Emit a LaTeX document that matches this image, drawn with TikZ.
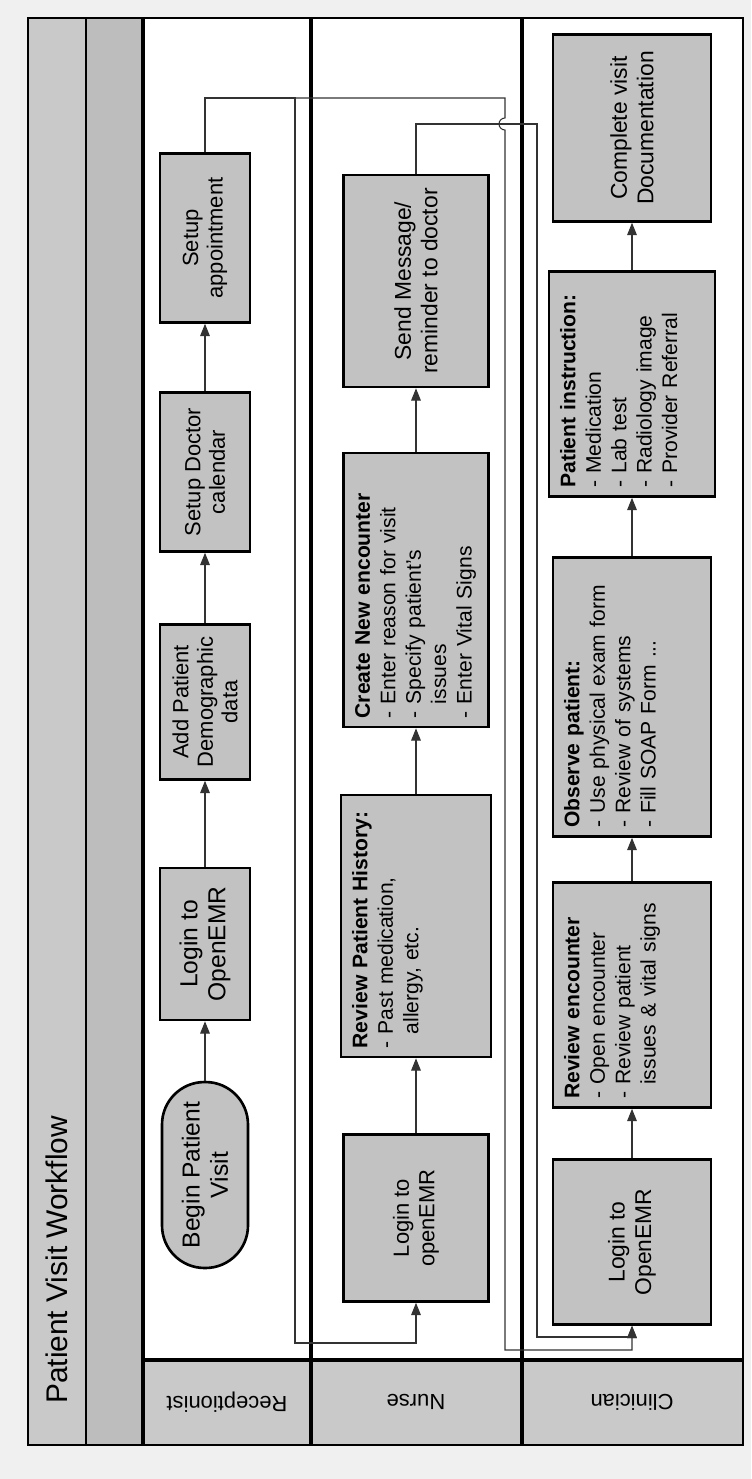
\documentclass[tikz,border=0pt]{standalone}
\usepackage{fontspec}
\setmainfont{Liberation Sans}
\usetikzlibrary{arrows.meta}
\definecolor{boxgray}{HTML}{C2C2C2}
\definecolor{stripgray}{HTML}{C9C9C9}
\definecolor{bandgray}{HTML}{BDBDBD}
\definecolor{paper}{HTML}{F0F0F0}

\begin{document}
\begin{tikzpicture}[x=0.02cm, y=-0.02cm,
    stepbox/.style={draw, line width=1.5pt, fill=boxgray, rotate=90, align=center, inner sep=5pt},
    listbox/.style 2 args={stepbox, align=left, text width=#1, text height=10pt, text depth=#2, font=\fontsize{12}{14.5}\selectfont},
    startbox/.style={stepbox, rounded corners=0.85cm},
    flow/.style={draw=black!80, line width=0.6pt, -{Triangle[length=7pt, width=5.5pt]}},
    laneline/.style={line width=2pt},
    lanename/.style={rotate=180, font=\fontsize{12.5}{14}\selectfont}]
      \useasboundingbox (0,0) rectangle (751,1479);
      \fill[paper] (0,0) rectangle (751,1479);
      %Pool and lanes
      \fill[white] (143,18) rectangle (743,1360);
      \fill[stripgray] (28,18) rectangle (86,1445);
      \fill[bandgray] (86,18) rectangle (143,1445);
      \fill[stripgray] (143,1360) rectangle (743,1445);
      \draw[line width=1.6pt] (28,18) rectangle (743,1445);
      \draw[line width=0.8pt] (86,18) -- (86,1445);
      \draw[laneline] (143,18) -- (143,1445);
      \draw[laneline] (311,18) -- (311,1445);
      \draw[laneline] (522,18) -- (522,1445);
      \draw[laneline] (143,1360) -- (743,1360);
      \node[rotate=90, anchor=west, font=\fontsize{17}{20}\selectfont] (title) at (57,1410) {Patient Visit Workflow};
      \node[lanename] (recname) at (227,1402) {Receptionist};
      \node[lanename] (nursename) at (416,1402) {Nurse};
      \node[lanename] (clinname) at (632,1402) {Clinician};

      %Receptionist
      \node[startbox, minimum width=3.72cm, minimum height=1.72cm, font=\fontsize{14}{16}\selectfont] (begin) at (205,1175) {Begin Patient\\Visit};
      \node[stepbox, minimum width=3.04cm, minimum height=1.8cm, font=\fontsize{14}{16}\selectfont] (rlogin) at (205,944) {Login to\\OpenEMR};
      \node[stepbox, minimum width=3.1cm, minimum height=1.8cm, font=\fontsize{12.5}{14}\selectfont] (demog) at (205,702) {Add Patient\\Demographic\\data};
      \node[stepbox, minimum width=3.18cm, minimum height=1.8cm, font=\fontsize{12.5}{14}\selectfont] (calendar) at (205,472) {Setup Doctor\\calendar};
      \node[stepbox, minimum width=3.38cm, minimum height=1.8cm, font=\fontsize{12.5}{14}\selectfont] (appt) at (205,238) {Setup\\appointment};
      \draw[flow] (begin.east) -- (rlogin.west);
      \draw[flow] (rlogin.east) -- (demog.west);
      \draw[flow] (demog.east) -- (calendar.west);
      \draw[flow] (calendar.east) -- (appt.west);

      %Nurse
      \node[stepbox, minimum width=3.34cm, minimum height=2.9cm, font=\fontsize{12.5}{14.5}\selectfont] (nlogin) at (416,1218) {Login to\\openEMR};
      \node[listbox={4.89cm}{2.30cm}] (history) at (416,926) {\textbf{Review Patient History:}\\- Past medication,\\\phantom{- }allergy, etc.};
      \node[listbox={5.13cm}{2.20cm}] (encounter) at (416,590) {\textbf{Create  New encounter}\\- Enter reason for visit\\- Specify  patient’s\\\phantom{- }issues\\- Enter Vital Signs};
      \node[stepbox, minimum width=4.24cm, minimum height=2.9cm, font=\fontsize{13}{15}\selectfont] (message) at (416,281) {Send Message/\\reminder to doctor};
      \draw[flow] (nlogin.east) -- (history.west);
      \draw[flow] (history.east) -- (encounter.west);
      \draw[flow] (encounter.east) -- (message.west);

      %Clinician
      \node[stepbox, minimum width=3.3cm, minimum height=3.16cm, font=\fontsize{13}{15}\selectfont] (clogin) at (632,1242) {Login to\\OpenEMR};
      \node[listbox={4.15cm}{2.46cm}] (review) at (632,995) {\textbf{Review encounter}\\- Open encounter\\- Review patient\\\phantom{- }issues \& vital signs};
      \node[listbox={5.23cm}{2.46cm}] (observe) at (632,697) {\textbf{Observe  patient:}\\- Use physical exam form\\- Review of systems\\- Fill SOAP Form ...};
      \node[listbox={4.15cm}{2.62cm}] (instruct) at (632,384) {\textbf{Patient instruction:}\\- Medication\\- Lab test\\- Radiology image\\- Provider Referral};
      \node[stepbox, minimum width=3.74cm, minimum height=3.16cm, font=\fontsize{13}{15}\selectfont] (complete) at (632,128) {Complete visit\\Documentation};
      \draw[flow] (clogin.east) -- (review.west);
      \draw[flow] (review.east) -- (observe.west);
      \draw[flow] (observe.east) -- (instruct.west);
      \draw[flow] (instruct.east) -- (complete.west);

      %Loops back to the next lane
      \coordinate (recturn) at (295,98);
      \coordinate (recdown) at (295,1343);
      \draw[flow] (appt.east) |- (recturn) -- (recdown) -| (nlogin.west);
      \coordinate (nurturn) at (505,98);
      \coordinate (hoptop) at (505,118);
      \coordinate (nurdown) at (505,1350);
      \draw[flow] (appt.east) |- (nurturn) -- (hoptop) arc[start angle=270, end angle=90, radius=6] -- (nurdown) -| (clogin.west);
      \coordinate (msgturn) at (537,124);
      \coordinate (msgdown) at (537,1337);
      \draw[flow] (message.east) |- (msgturn) -- (msgdown) -| (clogin.west);
\end{tikzpicture}
\end{document}
